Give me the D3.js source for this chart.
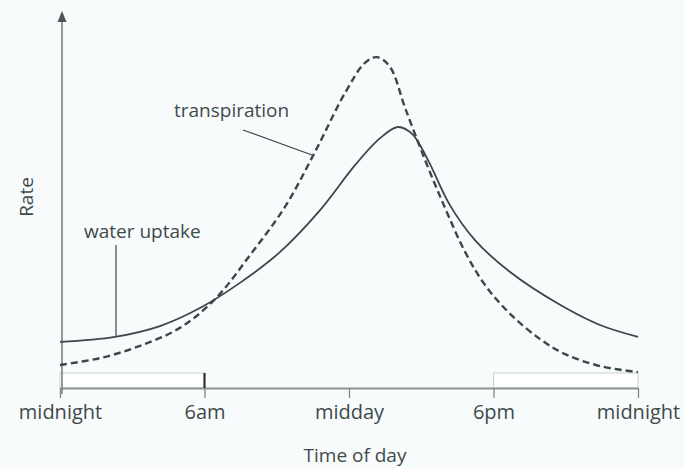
<!DOCTYPE html>
<html><head><meta charset="utf-8">
<script src="https://cdn.jsdelivr.net/npm/d3@7"></script>
<style>
html,body{margin:0;padding:0;background:#f8fbfb;}
svg{display:block;}
text{font-family:"Open Sans","Noto Sans",sans-serif;fill:#3e4a4a;}
</style></head><body>
<svg id="c" width="684" height="468"></svg>
<script>
// Data (hours since midnight, relative rate)
const tickHours = [0, 6, 12, 18, 24];
const tickLabels = ["midnight", "6am", "midday", "6pm", "midnight"];
const uptakeHours = [0, 2.28, 4.15, 5.81, 7.47, 9.14, 10.80, 12.25, 13.29, 14.03, 14.62, 15.28, 16.19, 17.23, 18.69, 20.76, 22.42, 24];
const uptakeRate  = [12.8, 14.2, 17.2, 22.2, 29.2, 37.8, 49.4, 61.9, 69.4, 72.5, 70.6, 63.3, 50.8, 41.1, 32.2, 23.1, 17.5, 14.2];
const transHours = [0, 1.66, 3.32, 4.98, 6.44, 7.89, 9.34, 10.59, 11.83, 12.66, 13.16, 13.70, 14.33, 15.16, 15.99, 16.82, 17.65, 18.69, 19.93, 20.97, 22.42, 24];
const transRate  = [6.4, 8.3, 11.7, 16.7, 24.7, 36.9, 50.3, 65.6, 81.9, 90.3, 91.9, 89.2, 77.8, 63.3, 50.0, 37.8, 28.6, 20.6, 13.6, 9.4, 6.1, 4.4];
const nightSpans = [[0, 6], [18, 24]];

const svg = d3.select("#c");
const ink = "#3b4748";
const x = d3.scaleLinear().domain([0, 24]).range([60, 638]);
const y = d3.scaleLinear().domain([0, 100]).range([388, 28]);
const FONT = '"Open Sans","Noto Sans",sans-serif';

// night boxes
svg.selectAll("rect.night").data(nightSpans).join("rect")
  .attr("class", "night")
  .attr("x", d => x(d[0])).attr("y", 373)
  .attr("width", d => x(d[1]) - x(d[0])).attr("height", y(0) - 373)
  .attr("fill", "#ffffff").attr("stroke", "#c9d1d1").attr("stroke-width", 1);

// x axis
const xa = svg.append("g").attr("transform", `translate(0,${y(0)})`)
  .call(d3.axisBottom(x).tickValues(tickHours).tickFormat((d, i) => tickLabels[i]).tickSize(10).tickSizeOuter(0).tickPadding(7));
xa.select(".domain").attr("stroke", "#8a9595").attr("stroke-width", 1.8);
xa.selectAll(".tick line").attr("stroke", "#7d8888").attr("stroke-width", 1.3);
xa.selectAll(".tick text").attr("font-size", 20).attr("fill", "#3e4a4a")
  .style("font-family", FONT);

// dark tick at 6am
svg.append("line").attr("x1", x(6)).attr("x2", x(6)).attr("y1", 373).attr("y2", y(0))
  .attr("stroke", "#2a3333").attr("stroke-width", 2.2);

// y axis with arrow
svg.append("line").attr("x1", 62).attr("x2", 62).attr("y1", 394).attr("y2", 18)
  .attr("stroke", "#6f7b7b").attr("stroke-width", 1.5);
svg.append("path").attr("d", "M62,11 L57.5,22 L66.5,22 Z").attr("fill", "#4a5656");

// curves
const line = d3.line().x(d => x(d[0])).y(d => y(d[1])).curve(d3.curveCatmullRom.alpha(0.5));
svg.append("path").datum(uptakeHours.map((h, i) => [h, uptakeRate[i]]))
  .attr("d", line).attr("fill", "none").attr("stroke", ink).attr("stroke-width", 1.8);
svg.append("path").datum(transHours.map((h, i) => [h, transRate[i]]))
  .attr("d", line).attr("fill", "none").attr("stroke", ink).attr("stroke-width", 2.4)
  .attr("stroke-dasharray", "7,4");

// labels
svg.append("text").attr("x", 174).attr("y", 117).attr("font-size", 19).text("transpiration");
svg.append("line").attr("x1", 243).attr("y1", 130).attr("x2", 312).attr("y2", 155)
  .attr("stroke", ink).attr("stroke-width", 1.2);
svg.append("text").attr("x", 84).attr("y", 238).attr("font-size", 19).text("water uptake");
svg.append("line").attr("x1", 116).attr("y1", 245).attr("x2", 116).attr("y2", 337)
  .attr("stroke", ink).attr("stroke-width", 1.2);

svg.append("text").attr("transform", "translate(33,197) rotate(-90)")
  .attr("text-anchor", "middle").attr("font-size", 19).text("Rate");
svg.append("text").attr("x", 355).attr("y", 462).attr("text-anchor", "middle")
  .attr("font-size", 19).text("Time of day");
</script>
</body></html>
